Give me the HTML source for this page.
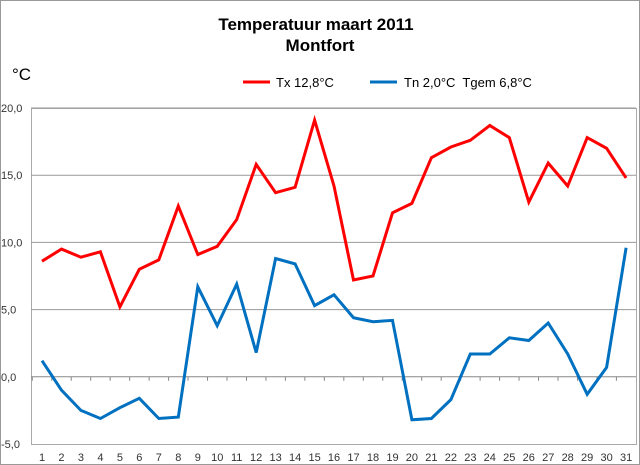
<!DOCTYPE html>
<html><head><meta charset="utf-8"><style>
body{margin:0;background:#fff}
svg{display:block;font-family:"Liberation Sans",sans-serif}
</style></head><body>
<svg id="s" width="640" height="465" viewBox="0 0 640 465">
<rect x="0.5" y="0.5" width="639" height="464" fill="#fff" stroke="#999"/>
<text x="316" y="30" text-anchor="middle" font-size="17" font-weight="bold">Temperatuur maart 2011</text>
<text x="320" y="51" text-anchor="middle" font-size="17" font-weight="bold">Montfort</text>
<text x="12" y="80" font-size="17">°C</text>
<line x1="243" y1="82" x2="270" y2="82" stroke="#f00" stroke-width="3"/>
<text x="276" y="87" font-size="13">Tx 12,8°C</text>
<line x1="370" y1="82" x2="397" y2="82" stroke="#0070c0" stroke-width="3"/>
<text x="404" y="87" font-size="13" xml:space="preserve">Tn 2,0°C  Tgem 6,8°C</text>
<rect x="31.5" y="108.5" width="605" height="336" fill="none" stroke="#aaa"/>
<g id="g"></g>
</svg>
<script>
var tx=[8.6,9.5,8.9,9.3,5.2,8.0,8.7,12.7,9.1,9.7,11.7,15.8,13.7,14.1,19.1,14.2,7.2,7.5,12.2,12.9,16.3,17.1,17.6,18.7,17.8,13.0,15.9,14.2,17.8,17.0,14.8];
var tn=[1.2,-1.0,-2.5,-3.1,-2.3,-1.6,-3.1,-3.0,6.7,3.8,6.9,1.8,8.8,8.4,5.3,6.1,4.4,4.1,4.2,-3.2,-3.1,-1.7,1.7,1.7,2.9,2.7,4.0,1.7,-1.3,0.7,9.6];
function Y(v){return 376.8-v*13.44}function X(i){return 42+i*19.47}
var h='';
[20,15,10,5].forEach(function(v){var y=Y(v);h+='<line x1="31" y1="'+y+'" x2="636" y2="'+y+'" stroke="#999"/>';});
[20,15,10,5,0,-5].forEach(function(v){h+='<text x="1" y="'+(Y(v)+4)+'" font-size="11" fill="#333">'+v.toFixed(1).replace('.',',')+'</text>';});
h+='<line x1="31" y1="'+Y(0)+'" x2="636" y2="'+Y(0)+'" stroke="#888"/>';
for(var i=0;i<31;i++){var xb=X(i)-9.7;h+='<line x1="'+xb+'" y1="'+Y(0)+'" x2="'+xb+'" y2="'+(Y(0)+4)+'" stroke="#888"/>';h+='<text x="'+X(i)+'" y="461" font-size="11" text-anchor="middle" fill="#333">'+(i+1)+'</text>';}
function pl(d,c){return '<polyline fill="none" stroke="'+c+'" stroke-width="3" stroke-linejoin="miter" points="'+d.map(function(v,i){return X(i).toFixed(1)+','+Y(v).toFixed(1)}).join(' ')+'"/>';}
h+=pl(tx,'#f00')+pl(tn,'#0070c0');
document.getElementById('g').innerHTML=h;
</script>
</body></html>
